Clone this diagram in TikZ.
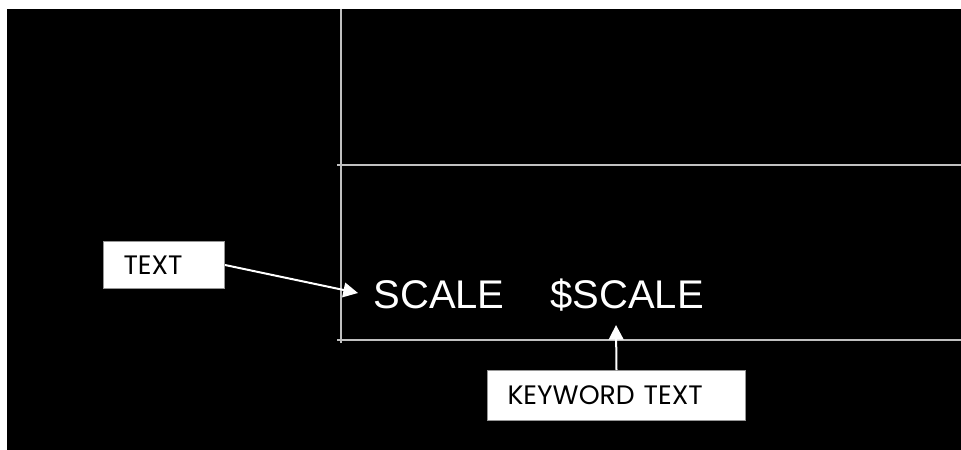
\documentclass[tikz,border=0pt]{standalone}
\usepackage{fontspec}
\setmainfont{Liberation Sans}
\newfontfamily\gothic{Poppins}
\usetikzlibrary{arrows.meta}

\definecolor{lineGray}{RGB}{192,192,192}
\definecolor{boxGray}{RGB}{150,150,150}

\tikzset{every picture/.style={line width=0.75pt}}
\tikzset{
  callout/.style={draw=boxGray, fill=white, inner xsep=15pt, inner ysep=0pt, anchor=north west, align=left, font=\gothic\fontsize{20}{22}\selectfont},
  pointer/.style={draw=white, line width=1.5pt, -{Triangle[length=11pt,width=11pt]}},
  frameline/.style={draw=lineGray, line width=1pt},
  dimtext/.style={anchor=base west, inner sep=0pt, text=white, font=\fontsize{30}{33}\selectfont}
}

\begin{document}
\begin{tikzpicture}[x=0.75pt,y=0.75pt,yscale=-1,xscale=1]
\useasboundingbox (0,0) rectangle (961,450);
\fill[white] (0,0) rectangle (961,450);
\fill[black] (7,9) rectangle (961,450);

%Straight Lines [id:frame_vertical]
\draw[frameline]    (341,9) -- (341,343) ;
%Straight Lines [id:frame_top]
\draw[frameline]    (337,165) -- (961,165) ;
%Straight Lines [id:frame_bottom]
\draw[frameline]    (337,340) -- (961,340) ;

% Text Node
\node (scale) at (373,308) [dimtext] {SCALE};
% Text Node
\node (keyscale) at (550,308) [dimtext] {\$SCALE};

% Text Node
\node (textbox) at (103,241) [callout, text width=60.75pt, minimum height=35.25pt] {TEXT};
% Text Node
\node (keybox) at (487,370) [callout, text width=163.5pt, minimum height=37.5pt] {KEYWORD TEXT};

\coordinate (texttip) at (358,293);
\coordinate (keytip) at (616,325);
\draw[pointer] (textbox.east) -- (texttip);
\draw[pointer] (keybox.north) -- (keytip);

\end{tikzpicture}
\end{document}
